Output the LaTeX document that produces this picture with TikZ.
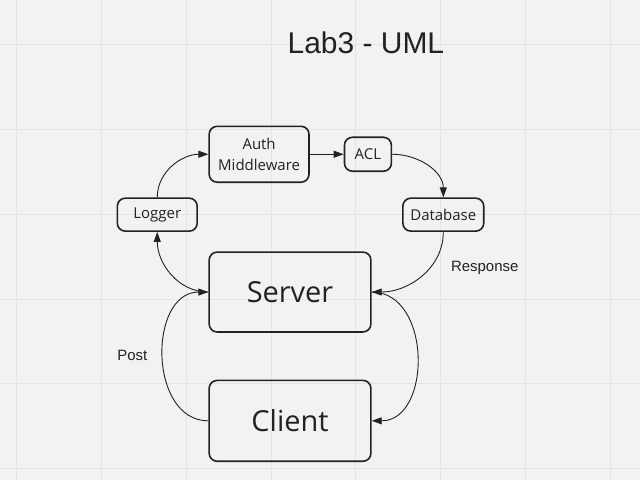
\documentclass[tikz,border=0pt]{standalone}
\usepackage{fontspec}
\setmainfont{Liberation Sans}
\newfontfamily\boxfont{Open Sans}
\usetikzlibrary{arrows.meta}
\definecolor{paper}{HTML}{F2F2F2}
\definecolor{gridline}{HTML}{E4E4E4}
\definecolor{ink}{HTML}{222222}
\tikzset{
  umlbox/.style={draw=ink, line width=1.6pt, rounded corners=8pt, inner sep=0pt,
    text=ink, align=center, font=\boxfont\fontsize{15}{21}\selectfont},
  bigbox/.style={umlbox, font=\boxfont\fontsize{29}{34}\selectfont},
  flow/.style={draw=ink, line width=0.9pt, -{Triangle[length=10pt,width=7pt]}},
  note/.style={text=ink, font=\fontsize{15}{18}\selectfont}
}

\begin{document}
\begin{tikzpicture}[x=1pt,y=-1pt]
\fill[paper] (0,0) rectangle (640,480);
\foreach \gx in {16,101,...,611} \draw[gridline, line width=1pt] (\gx,0)--(\gx,480);
\foreach \gy in {44,129,...,469} \draw[gridline, line width=1pt] (0,\gy)--(640,\gy);
\useasboundingbox (0,0) rectangle (640,480);

\node[text=ink, font=\fontsize{30}{36}\selectfont] (title) at (366,42) {Lab3 - UML};

\node[umlbox, minimum width=100pt, minimum height=56pt] (auth) at (259,154) {Auth\\Middleware};
\node[umlbox, minimum width=47pt, minimum height=34pt] (acl) at (368,154) {ACL};
\node[umlbox, minimum width=80pt, minimum height=33pt] (logger) at (157,214.5) {Logger};
\node[umlbox, minimum width=81pt, minimum height=33pt] (db) at (443.5,214.5) {Database};
\node[bigbox, minimum width=162pt, minimum height=80pt] (server) at (290,292) {Server};
\node[bigbox, minimum width=162pt, minimum height=81pt] (client) at (290,421) {Client};

\node[note] (resp) at (485,268) {Response};
\node[note] (post) at (132,355) {Post};

\draw[flow] (logger.north) to[out=90, in=180] (auth.west);
\draw[flow] (auth.east) -- (acl.west);
\draw[flow] (acl.east) to[out=0, in=90] (db.north);
\draw[flow] (db.south) to[out=-90, in=0] (server.east);
\draw[flow] (server.west) to[out=180, in=-90] (logger.south);
\draw[flow] (client.west) to[out=180, in=180, looseness=1.2] (server.west);
\draw[flow] (server.east) to[out=0, in=0, looseness=1.2] (client.east);

\end{tikzpicture}
\end{document}
